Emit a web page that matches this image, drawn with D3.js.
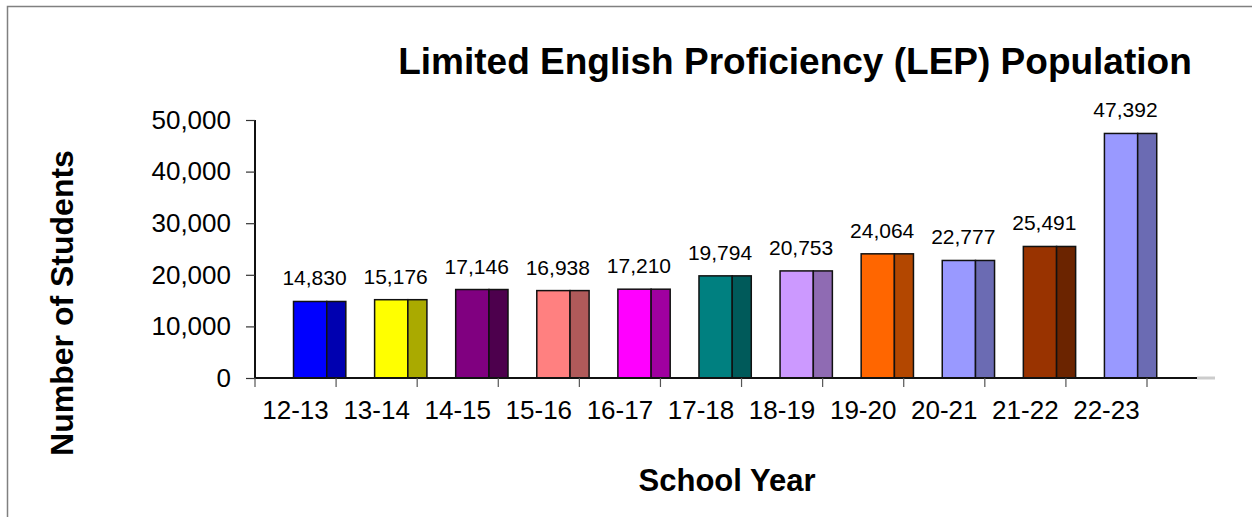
<!DOCTYPE html>
<html>
  <head>
    <meta charset="utf-8">
    <style>
      body { margin: 0; background: #fff; }
      svg text { font-family: "Liberation Sans", Arial, sans-serif; fill: #000; }
    </style>
    <script src="https://d3js.org/d3.v7.min.js"></script>
    <title>LEP population</title>
  </head>
  <body>
    <div id="chart"></div>
    <script>
    // data
    var years = ["12-13","13-14","14-15","15-16","16-17","17-18","18-19","19-20","20-21","21-22","22-23"]
    var students = [14830, 15176, 17146, 16938, 17210, 19794, 20753, 24064, 22777, 25491, 47392]
    var frontColors = ["#0000ff","#ffff00","#800080","#ff8080","#ff00ff","#008080","#cc99ff","#ff6600","#9999ff","#993300","#9999ff"]
    var sideColors  = ["#0000b0","#aaaa00","#4d004d","#b05a5a","#a000a0","#005a5a","#8f6bb3","#b34700","#6b6bb3","#6b2400","#6b6bb3"]
    var yTicks = [0, 10000, 20000, 30000, 40000, 50000]

    var W = 1252, H = 517
    var plot = {left: 255, right: 1147, top: 120, bottom: 378}

    var svg = d3.select("#chart").append("svg")
      .attr("width", W).attr("height", H)

    // outer frame (only top and left edges are inside the picture)
    svg.append("rect")
      .attr("x", 7.5).attr("y", 6.5)
      .attr("width", W + 20).attr("height", H + 20)
      .attr("fill", "none").attr("stroke", "#808080").attr("stroke-width", 1.5)

    var x = d3.scaleBand().domain(years).range([plot.left, plot.right]).padding(0)
    var y = d3.scaleLinear().domain([0, 50000]).range([plot.bottom, plot.top])
    var bw = x.bandwidth()

    // bars: a front face and a darker side face
    var bars = svg.selectAll("g.bar")
      .data(years).enter().append("g").attr("class", "bar")

    bars.append("rect")
      .attr("x", function(d) { return x(d) + bw * 0.475 })
      .attr("y", function(d, i) { return y(students[i]) })
      .attr("width", bw * 0.41)
      .attr("height", function(d, i) { return y(0) - y(students[i]) })
      .attr("fill", function(d, i) { return frontColors[i] })
      .attr("stroke", "#111").attr("stroke-width", 1.5)

    bars.append("rect")
      .attr("x", function(d) { return x(d) + bw * 0.885 })
      .attr("y", function(d, i) { return y(students[i]) })
      .attr("width", bw * 0.235)
      .attr("height", function(d, i) { return y(0) - y(students[i]) })
      .attr("fill", function(d, i) { return sideColors[i] })
      .attr("stroke", "#111").attr("stroke-width", 1.5)

    // value labels
    bars.append("text")
      .attr("x", function(d) { return x(d) + bw / 2 + 19 })
      .attr("y", function(d, i) { return y(students[i]) - 16 })
      .attr("text-anchor", "middle")
      .style("font-size", "21px")
      .text(function(d, i) { return d3.format(",")(students[i]) })

    // y axis
    var yAxis = svg.append("g")
      .attr("transform", "translate(" + plot.left + ",0)")
      .call(d3.axisLeft(y).tickValues(yTicks).tickFormat(d3.format(",")).tickSize(9).tickPadding(15))
    yAxis.select(".domain").attr("stroke", "#111").attr("stroke-width", 2)
      .attr("d", "M0," + plot.top + "V" + plot.bottom)
    yAxis.selectAll(".tick line").attr("stroke", "#333").attr("stroke-width", 1.2)
    yAxis.selectAll("text").style("font-size", "26px").attr("fill", "#000")

    // x axis: ticks on band boundaries, labels at band centers
    var xAxis = svg.append("g")
      .attr("transform", "translate(0," + plot.bottom + ")")
    xAxis.append("line")
      .attr("x1", plot.left).attr("x2", 1197)
      .attr("stroke", "#111").attr("stroke-width", 2)
    xAxis.append("line")
      .attr("x1", 1197).attr("x2", 1215)
      .attr("stroke", "#ccc").attr("stroke-width", 3)
    xAxis.selectAll("line.tk")
      .data(years.concat(["end"])).enter().append("line").attr("class", "tk")
      .attr("x1", function(d) { return d == "end" ? plot.right : x(d) })
      .attr("x2", function(d) { return d == "end" ? plot.right : x(d) })
      .attr("y1", 0).attr("y2", 9)
      .attr("stroke", "#555").attr("stroke-width", 1.2)
    xAxis.selectAll("text")
      .data(years).enter().append("text")
      .attr("x", function(d) { return x(d) + bw / 2 })
      .attr("y", 41)
      .attr("text-anchor", "middle")
      .style("font-size", "26px")
      .text(function(d) { return d })

    // titles
    svg.append("text")
      .attr("x", 795).attr("y", 74)
      .attr("text-anchor", "middle")
      .style("font-size", "37px").style("font-weight", "bold")
      .text("Limited English Proficiency (LEP) Population")

    svg.append("text")
      .attr("transform", "translate(73,303) rotate(-90)")
      .attr("text-anchor", "middle")
      .style("font-size", "32px").style("font-weight", "bold")
      .text("Number of Students")

    svg.append("text")
      .attr("x", 727).attr("y", 491)
      .attr("text-anchor", "middle")
      .style("font-size", "31px").style("font-weight", "bold")
      .text("School Year")
    </script>
  </body>
</html>
